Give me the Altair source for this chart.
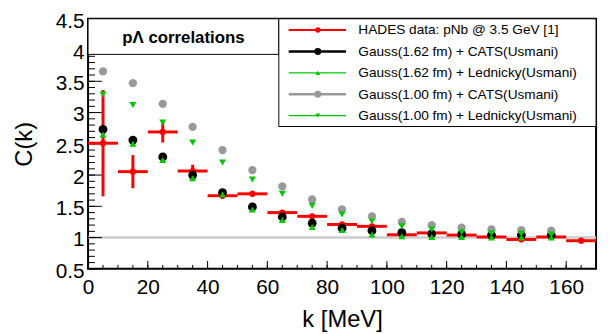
import altair as alt
import pandas as pd
import numpy as np

# ---------------- data ----------------
k_data = [5, 15, 25, 35, 45, 55, 65, 75, 85, 95, 105, 115, 125, 135, 145, 155, 165]
c_data = [2.51, 2.055, 2.69, 2.065, 1.67, 1.70, 1.40, 1.34, 1.21, 1.18, 1.045, 1.075,
          1.04, 1.01, 0.97, 1.01, 0.95]
c_err = [0.85, 0.265, 0.17, 0.10, 0.05, 0.05, 0.04, 0.04, 0.03, 0.03, 0.03, 0.03,
         0.02, 0.02, 0.02, 0.02, 0.02]
k_half = 5

k_model = [5, 15, 25, 35, 45, 55, 65, 75, 85, 95, 105, 115, 125, 135, 145, 155]
cats_162 = [2.73, 2.56, 2.29, 2.00, 1.72, 1.49, 1.33, 1.23, 1.15, 1.11, 1.08, 1.06,
            1.05, 1.04, 1.04, 1.04]
led_162 = [2.65, 2.50, 2.24, 1.95, 1.69, 1.45, 1.28, 1.17, 1.12, 1.05, 1.02, 1.01,
           1.01, 1.00, 1.00, 1.00]
cats_100 = [3.66, 3.47, 3.14, 2.77, 2.40, 2.08, 1.82, 1.61, 1.45, 1.34, 1.25, 1.20,
            1.16, 1.13, 1.12, 1.11]
led_100 = [3.29, 3.12, 2.84, 2.52, 2.20, 1.93, 1.70, 1.51, 1.37, 1.26, 1.18, 1.13,
           1.09, 1.07, 1.06, 1.05]

legend_labels = [
    "HADES data: pNb @ 3.5 GeV [1]",
    "Gauss(1.62 fm) + CATS(Usmani)",
    "Gauss(1.62 fm) + Lednicky(Usmani)",
    "Gauss(1.00 fm) + CATS(Usmani)",
    "Gauss(1.00 fm) + Lednicky(Usmani)",
]
title_text = "p\u039b correlations"

x_major = [0, 20, 40, 60, 80, 100, 120, 140, 160]
x_minor = list(range(0, 171, 5))
y_major = [0.5, 1.0, 1.5, 2.0, 2.5, 3.0, 3.5, 4.0, 4.5]
y_minor = [round(v, 1) for v in np.arange(0.5, 4.51, 0.1)]
baseline_value = [1.0]

# ---------------- styling ----------------
W, H = 514, 253
FONT = "Liberation Sans"
RED = "#ff0000"
GREEN = "#00c800"
GRAY = "#999999"
BLACK = "#000000"

xs = alt.Scale(domain=[0, 170], nice=False, zero=False)
ys = alt.Scale(domain=[0.5, 4.5], nice=False, zero=False)

x_axis = alt.Axis(values=x_major, format="d", ticks=False, tickSize=0, domain=False,
                  grid=False, labelFontSize=21, labelFont=FONT, labelColor="black",
                  labelPadding=8, labelFlush=False, labelOverlap=False,
                  title="k [MeV]", titleFont=FONT, titleFontSize=24,
                  titleFontWeight="normal", titleColor="black",
                  titleX=257, titleY=58, titleBaseline="alphabetic", titleAlign="center")
y_axis = alt.Axis(values=y_major, format="~g", ticks=False, tickSize=0, domain=False,
                  grid=False, labelFontSize=21, labelFont=FONT, labelColor="black",
                  labelPadding=4, labelOffset=2.5, labelFlush=False, labelOverlap=False,
                  title="C(k)", titleFont=FONT, titleFontSize=24,
                  titleFontWeight="normal", titleColor="black",
                  titleX=-52, titleY=126.5, titleAngle=270, titleBaseline="bottom",
                  titleAlign="center")


def X(field):
    return alt.X(field, type="quantitative", scale=xs, axis=x_axis)


def Y(field):
    return alt.Y(field, type="quantitative", scale=ys, axis=y_axis)


df_data = pd.DataFrame({"k": k_data, "c": c_data, "err": c_err})
one = pd.DataFrame({"a": [0]})

layers = []

# y = 1 reference line
layers.append(
    alt.Chart(pd.DataFrame({"v": baseline_value}))
    .mark_rule(color="#cccccc", strokeWidth=2.5)
    .encode(y=Y("v"))
)

# inward ticks
layers.append(
    alt.Chart(pd.DataFrame({"v": x_minor})).mark_rule(color="black", strokeWidth=1)
    .encode(x=X("v"), y=alt.value(H), y2=alt.value(H - 4))
)
layers.append(
    alt.Chart(pd.DataFrame({"v": x_major})).mark_rule(color="black", strokeWidth=1)
    .encode(x=X("v"), y=alt.value(H), y2=alt.value(H - 8))
)
layers.append(
    alt.Chart(pd.DataFrame({"v": y_minor})).mark_rule(color="black", strokeWidth=1)
    .encode(y=Y("v"), x=alt.value(0), x2=alt.value(7))
)
layers.append(
    alt.Chart(pd.DataFrame({"v": y_major})).mark_rule(color="black", strokeWidth=1)
    .encode(y=Y("v"), x=alt.value(0), x2=alt.value(14))
)

# data: error bars
data_base = alt.Chart(df_data).transform_calculate(
    klo=f"datum.k - {k_half}", khi=f"datum.k + {k_half}",
    lo="datum.c - datum.err", hi="datum.c + datum.err")
layers.append(
    data_base.mark_rule(color=RED, strokeWidth=3)
    .encode(x=X("klo"), x2="khi", y=Y("c"))
)
layers.append(
    data_base.mark_rule(color=RED, strokeWidth=3)
    .encode(x=X("k"), y=Y("lo"), y2="hi")
)
layers.append(
    data_base.mark_point(shape="circle", filled=True, opacity=1, color=RED, size=40)
    .encode(x=X("k"), y=Y("c"))
)

# model points
models = [
    (cats_162, "circle", BLACK, 80),
    (led_162, "triangle-up", GREEN, 50),
    (cats_100, "circle", GRAY, 70),
    (led_100, "triangle-down", GREEN, 50),
]
for vals, shape, col, size in models:
    dfm = pd.DataFrame({"k": k_model, "c": vals})
    layers.append(
        alt.Chart(dfm).mark_point(shape=shape, filled=True, opacity=1, color=col,
                                  size=size, strokeWidth=0)
        .encode(x=X("k"), y=Y("c"))
    )

# title box
TB_R, TB_B = 193, 36
layers.append(
    alt.Chart(one).mark_rect(fill="white", stroke="black", strokeWidth=1)
    .encode(x=alt.value(0), x2=alt.value(TB_R), y=alt.value(0), y2=alt.value(TB_B))
)
layers.append(
    alt.Chart(one).mark_text(text=title_text, font=FONT, fontSize=17, fontWeight="bold",
                             color="black", align="center", baseline="middle")
    .encode(x=alt.value(TB_R / 2), y=alt.value(19))
)

# legend box
LG_L, LG_B = 193, 109
layers.append(
    alt.Chart(one).mark_rect(fill="white", stroke="black", strokeWidth=1)
    .encode(x=alt.value(LG_L), x2=alt.value(W), y=alt.value(0), y2=alt.value(LG_B))
)
leg_style = [
    (RED, 2, "circle", 30),
    (BLACK, 2.5, "circle", 50),
    (GREEN, 1.2, "triangle-up", 25),
    (GRAY, 2.5, "circle", 50),
    (GREEN, 1.2, "triangle-down", 25),
]
row_y = [11.3, 33, 54.7, 76.3, 98]
for lab, (col, sw, shape, size), yy in zip(legend_labels, leg_style, row_y):
    layers.append(
        alt.Chart(one).mark_rule(color=col, strokeWidth=sw)
        .encode(x=alt.value(203), x2=alt.value(261), y=alt.value(yy))
    )
    layers.append(
        alt.Chart(one).mark_point(shape=shape, filled=True, opacity=1, color=col,
                                  size=size, strokeWidth=0)
        .encode(x=alt.value(232.5), y=alt.value(yy))
    )
    layers.append(
        alt.Chart(one).mark_text(text=lab, font=FONT, fontSize=13.8, color="black",
                                 align="left", baseline="middle")
        .encode(x=alt.value(273.5), y=alt.value(yy + 0.5))
    )

chart = (
    alt.layer(*layers)
    .properties(width=W, height=H,
                autosize=alt.AutoSizeParams(type="none"),
                padding={"left": 81, "top": 9, "right": 5, "bottom": 64},
                background="white")
    .configure_view(stroke="black", strokeWidth=2)
)

chart.save("out.html", embed_options={"renderer": "svg", "actions": False})
